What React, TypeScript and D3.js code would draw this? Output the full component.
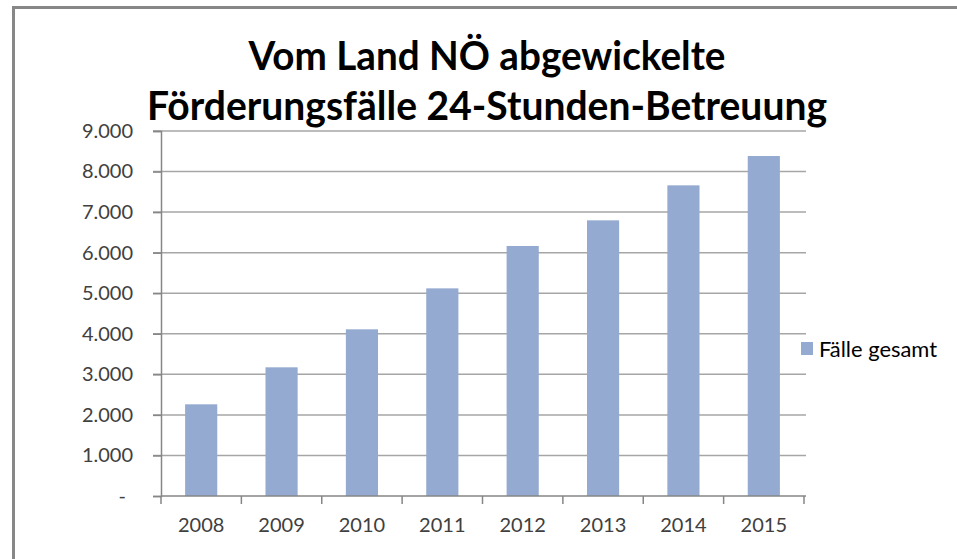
import { useEffect, useRef } from 'react'
import * as d3 from 'd3';

// Data
const years = ['2008', '2009', '2010', '2011', '2012', '2013', '2014', '2015'];
const cases = [2261, 3173, 4110, 5120, 6165, 6797, 7660, 8383];
const yTicks = [0, 1000, 2000, 3000, 4000, 5000, 6000, 7000, 8000, 9000];
const titleLines = ['Vom Land NÖ abgewickelte', 'Förderungsfälle 24-Stunden-Betreuung'];
const seriesName = 'Fälle gesamt';

const App = () => {

  const canvas = useRef<SVGSVGElement>(null);

  useEffect(() => {
    const svg = d3.select(canvas.current);
    svg.selectAll('*').remove();

    const width = 957, height = 559;
    const left = 161, right = 804, top = 131, bottom = 496;
    const font = 'Lato, "Open Sans", sans-serif';
    const barColor = '#94aad0';

    const de = d3.formatLocale({ decimal: ',', thousands: '.', grouping: [3], currency: ['', ' €'] });
    const fmt = de.format(',d');

    const x = d3.scaleBand()
      .domain(years)
      .range([left, right])
      .paddingInner(0.6)
      .paddingOuter(0.3);

    const y = d3.scaleLinear()
      .domain([0, 9000])
      .range([bottom, top]);

    // outer frame (only top and left are visible)
    svg.append('path')
      .attr('d', `M13.5,${height} L13.5,7.5 L${width},7.5`)
      .attr('fill', 'none')
      .attr('stroke', '#878787')
      .attr('stroke-width', 3);

    // title
    svg.append('g')
      .selectAll('text')
      .data(titleLines)
      .join('text')
      .attr('x', 487)
      .attr('y', (d, i) => 70 + i * 50)
      .attr('text-anchor', 'middle')
      .attr('textLength', (d, i) => (i === 0 ? 477 : 680))
      .attr('lengthAdjust', 'spacingAndGlyphs')
      .attr('font-family', font)
      .attr('font-weight', 'bold')
      .attr('font-size', 40)
      .attr('fill', '#000')
      .text((d) => d);

    // gridlines
    svg.append('g')
      .selectAll('line')
      .data(yTicks.filter((t) => t > 0))
      .join('line')
      .attr('x1', left - 8)
      .attr('x2', right + 2)
      .attr('y1', (d) => y(d))
      .attr('y2', (d) => y(d))
      .attr('stroke', '#a6a6a6')
      .attr('stroke-width', 1.5);

    // bars
    svg.append('g')
      .selectAll('rect')
      .data(cases)
      .join('rect')
      .attr('x', (d, i) => x(years[i]))
      .attr('y', (d) => y(d))
      .attr('width', x.bandwidth())
      .attr('height', (d) => y(0) - y(d))
      .attr('fill', barColor);

    // y axis
    const yAxis = svg.append('g')
      .attr('transform', `translate(${left},0)`)
      .call(d3.axisLeft(y).tickValues(yTicks).tickSize(8).tickPadding(20)
        .tickFormat((d) => (d === 0 ? '-' : fmt(d as number))));
    yAxis.select('.domain').attr('stroke', '#868686').attr('stroke-width', 1.5);
    yAxis.selectAll('line').attr('stroke', '#868686').attr('stroke-width', 1.5);
    yAxis.selectAll('text')
      .attr('font-family', font)
      .attr('font-size', 20)
      .attr('fill', '#404040')
      .attr('dx', (d) => (d === 0 ? -7 : 0));

    // x axis
    const step = x.step();
    const xAxis = svg.append('g');
    xAxis.append('line')
      .attr('x1', left).attr('x2', right + 2)
      .attr('y1', bottom).attr('y2', bottom)
      .attr('stroke', '#868686').attr('stroke-width', 1.5);
    xAxis.selectAll('line.tick')
      .data(d3.range(years.length + 1))
      .join('line')
      .attr('class', 'tick')
      .attr('x1', (i) => left + i * step)
      .attr('x2', (i) => left + i * step)
      .attr('y1', bottom)
      .attr('y2', bottom + 8)
      .attr('stroke', '#868686').attr('stroke-width', 1.5);
    xAxis.selectAll('text')
      .data(years)
      .join('text')
      .attr('x', (d) => x(d) + x.bandwidth() / 2)
      .attr('y', 532)
      .attr('text-anchor', 'middle')
      .attr('font-family', font)
      .attr('font-size', 20)
      .attr('fill', '#404040')
      .text((d) => d);

    // legend
    const legend = svg.append('g');
    legend.append('rect')
      .attr('x', 801).attr('y', 342)
      .attr('width', 12).attr('height', 13)
      .attr('fill', barColor);
    legend.append('text')
      .attr('x', 819).attr('y', 357)
      .attr('textLength', 118)
      .attr('lengthAdjust', 'spacingAndGlyphs')
      .attr('font-family', font)
      .attr('font-size', 21)
      .attr('fill', '#000')
      .text(seriesName);

  }, []);

  return (
    <svg ref={canvas} width={957} height={559}
      style={{ position: 'absolute', left: 0, top: 0, background: '#fff' }} />
  );
}

export default App;
